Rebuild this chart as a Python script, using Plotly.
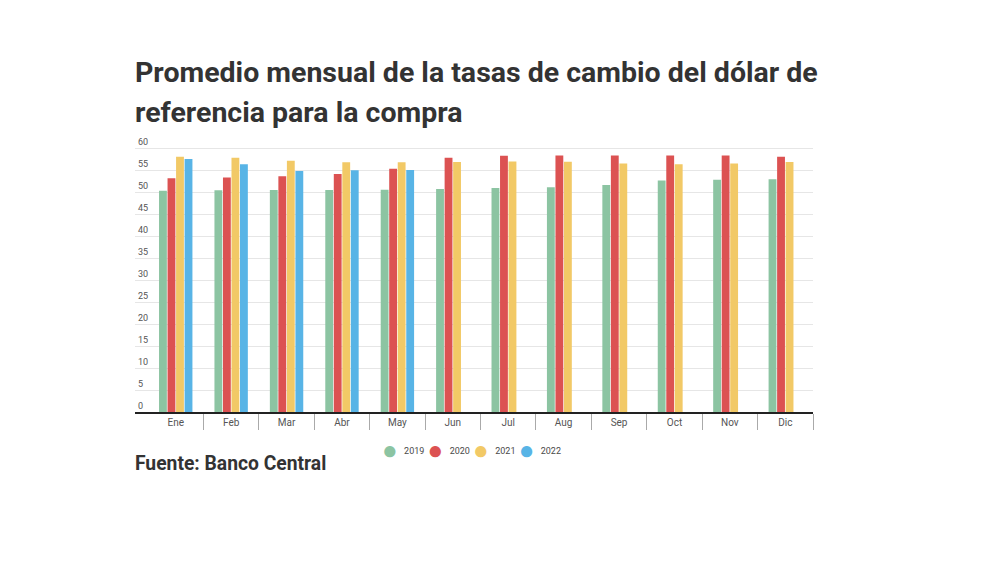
import plotly.graph_objects as go

# Promedio mensual de la tasa de cambio (compra), por año
meses = ['Ene', 'Feb', 'Mar', 'Abr', 'May', 'Jun', 'Jul', 'Aug', 'Sep', 'Oct', 'Nov', 'Dic']
anios = ['2019', '2020', '2021', '2022']
tasa_2019 = [50.3, 50.4, 50.45, 50.45, 50.5, 50.7, 50.9, 51.1, 51.6, 52.6, 52.8, 52.9]
tasa_2020 = [53.1, 53.3, 53.6, 54.1, 55.3, 57.8, 58.25, 58.3, 58.3, 58.3, 58.3, 58.0]
tasa_2021 = [58.0, 57.8, 57.1, 56.75, 56.75, 56.8, 56.95, 56.9, 56.5, 56.3, 56.45, 56.8]
tasa_2022 = [57.5, 56.3, 54.8, 54.95, 55.0, None, None, None, None, None, None, None]
colores = ['#8cc4a2', '#dc5252', '#f2c966', '#58b4e6']

fig = go.Figure()
for anio, valores, color in zip(anios, [tasa_2019, tasa_2020, tasa_2021, tasa_2022], colores):
    fig.add_trace(go.Bar(x=meses, y=valores, name=anio, marker_color=color,
                         marker_line_width=0, showlegend=False))

# leyenda con círculos, como en el original (el año va en <sup> para alinearlo con el círculo)
leyenda = '&nbsp;'.join(
    f"<span style='color:{c};font-size:26px'>●</span>&nbsp;&nbsp;<sup>{a}</sup>" for a, c in zip(anios, colores)
)

titulo_font = dict(family='Roboto', size=28.5, color='#333', weight='bold')

fig.update_layout(
    width=1000, height=562,
    margin=dict(l=127, r=195, t=122, b=158),
    paper_bgcolor='white', plot_bgcolor='white',
    font=dict(family='Roboto', color='#555'),
    barmode='group', bargap=0.385, bargroupgap=0.08,
    annotations=[
        dict(text='Promedio mensual de la tasas de cambio del dólar de', x=-0.003, y=1.2025,
             xref='paper', yref='paper', xanchor='left', yanchor='middle',
             showarrow=False, font=titulo_font),
        dict(text='referencia para la compra', x=-0.003, y=1.062,
             xref='paper', yref='paper', xanchor='left', yanchor='middle',
             showarrow=False, font=titulo_font),
        dict(text='Fuente: Banco Central', x=-0.003, y=-0.181, xref='paper', yref='paper',
             xanchor='left', yanchor='middle', showarrow=False,
             font=dict(family='Roboto', size=19.3, color='#333', weight='bold')),
        dict(text=leyenda, x=0.497, y=-0.135, xref='paper', yref='paper',
             xanchor='center', yanchor='middle', showarrow=False,
             font=dict(family='Roboto', size=12.86, color='#4a4a4a')),
    ],
)

fig.update_xaxes(
    type='category', range=[-0.735, 11.5],
    showline=True, linecolor='#222', linewidth=1.5,
    ticks='outside', tickson='boundaries', ticklen=16, tickcolor='#aaa', tickwidth=1,
    ticklabelstandoff=0,
    tickfont=dict(size=10, color='#555'), showgrid=False,
)
fig.update_yaxes(
    range=[0, 64.09], dtick=5, tick0=0,
    showgrid=True, gridcolor='#e6e6e6', gridwidth=1,
    zeroline=False, showline=False,
    ticklabelposition='inside top',
    tickfont=dict(size=9, color='#555'),
)

fig.write_html('out.html')
